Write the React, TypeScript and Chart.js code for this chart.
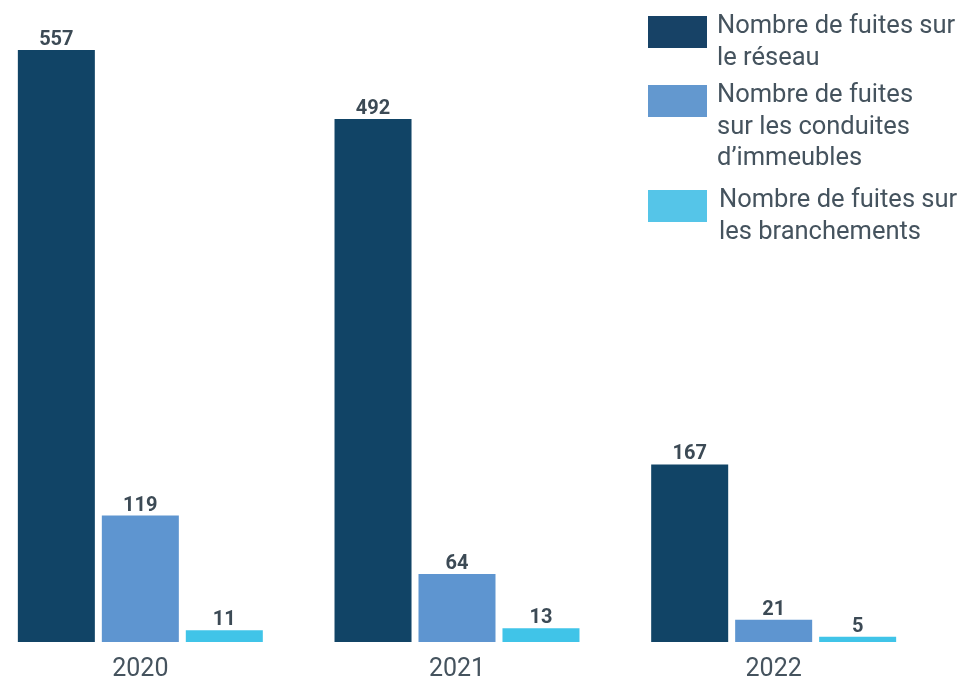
import React, { useEffect, useRef } from "react";
import { Chart, registerables } from "chart.js";

Chart.register(...registerables);

const categories = ["2020", "2021", "2022"];
const reseau = [557, 492, 167];
const conduites = [119, 64, 21];
const branchements = [11, 13, 5];
const seriesLabels = [
  ["Nombre de fuites sur", "le réseau"],
  ["Nombre de fuites", "sur les conduites", "d’immeubles"],
  ["Nombre de fuites sur", "les branchements"],
];
const barColors = ["#114466", "#5e95d0", "#40c4e8"];
const legendColors = ["#174266", "#6398cf", "#55c5e8"];

const TEXT = "#45535e";
const SHIFT = 18; // canvas sits this many px left of the page edge

const valueLabels = {
  id: "valueLabels",
  afterDatasetsDraw(chart: any) {
    const ctx = chart.ctx;
    ctx.save();
    ctx.font = "bold 20px Roboto";
    ctx.fillStyle = "#3c4a55";
    ctx.textAlign = "center";
    ctx.textBaseline = "alphabetic";
    chart.data.datasets.forEach((ds: any, i: number) => {
      const meta = chart.getDatasetMeta(i);
      meta.data.forEach((bar: any, j: number) => {
        ctx.fillText(String(ds.data[j]), bar.x, bar.y - 5);
      });
    });
    ctx.restore();
  },
};

const sideLegend = {
  id: "sideLegend",
  afterDraw(chart: any) {
    const ctx = chart.ctx;
    ctx.save();
    const boxTops = [16, 85, 190];
    const textX = [717, 717, 719];
    chart.data.datasets.forEach((ds: any, i: number) => {
      const top = boxTops[i];
      ctx.fillStyle = legendColors[i];
      ctx.fillRect(648 + SHIFT, top, 59, 32);
      ctx.fillStyle = TEXT;
      ctx.font = "25.5px Roboto";
      ctx.textAlign = "left";
      ctx.textBaseline = "alphabetic";
      (ds.label as string[]).forEach((line: string, k: number) => {
        ctx.fillText(line, textX[i] + SHIFT, top + 17 + k * 31.5);
      });
    });
    ctx.restore();
  },
};

export default function App() {
  const ref = useRef<HTMLCanvasElement | null>(null);
  useEffect(() => {
    if (!ref.current) return;
    const chart = new Chart(ref.current, {
      type: "bar",
      data: {
        labels: categories,
        datasets: [
          { label: seriesLabels[0] as any, data: reseau, backgroundColor: barColors[0] },
          { label: seriesLabels[1] as any, data: conduites, backgroundColor: barColors[1] },
          { label: seriesLabels[2] as any, data: branchements, backgroundColor: barColors[2] },
        ],
      },
      options: {
        animation: false,
        responsive: false,
        maintainAspectRatio: false,
        layout: { padding: { left: 0, right: 27, top: 0, bottom: -17 } },
        datasets: {
          bar: { categoryPercentage: 0.7956, barPercentage: 0.917, borderWidth: 0 },
        },
        plugins: {
          legend: { display: false },
          tooltip: { enabled: false },
        },
        scales: {
          x: {
            grid: { display: false, drawTicks: false },
            border: { display: false },
            ticks: {
              color: TEXT,
              padding: 15.5,
              font: { family: "Roboto", size: 25, lineHeight: 1 },
            },
          },
          y: {
            display: false,
            min: 0,
            max: 604,
          },
        },
      },
      plugins: [valueLabels, sideLegend],
    });
    return () => chart.destroy();
  }, []);
  return (
    <div style={{ position: "absolute", left: -SHIFT, top: 0, width: 977, height: 681 }}>
      <canvas ref={ref} width={977} height={681} style={{ display: "block" }} />
    </div>
  );
}
